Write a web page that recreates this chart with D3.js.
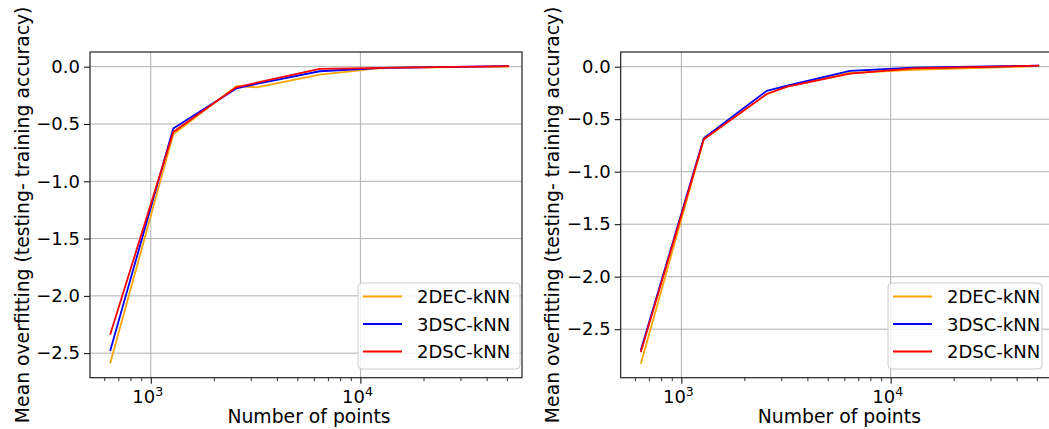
<!DOCTYPE html>
<html>
<head>
<meta charset="utf-8">
<script src="https://cdn.jsdelivr.net/npm/d3@7"></script>
<style>
  html, body { margin: 0; padding: 0; background: #fff; }
  svg { display: block; font-family: "DejaVu Sans", sans-serif; }
</style>
</head>
<body>
<svg id="chart" width="1049" height="429"></svg>
<script>
// ---- data ----
const numPoints = [640, 1280, 2560, 3200, 6400, 12800, 51200];
const seriesNames = ["2DEC-kNN", "3DSC-kNN", "2DSC-kNN"];

const left2DEC = [-2.59, -0.59, -0.17, -0.18, -0.07, -0.01, 0.0];
const left3DSC = [-2.48, -0.54, -0.19, -0.15, -0.04, -0.01, 0.005];
const left2DSC = [-2.34, -0.57, -0.18, -0.14, -0.02, -0.01, 0.005];

const right2DEC = [-2.83, -0.69, -0.26, -0.19, -0.06, -0.03, 0.005];
const right3DSC = [-2.70, -0.68, -0.23, -0.18, -0.04, -0.01, 0.01];
const right2DSC = [-2.72, -0.69, -0.26, -0.19, -0.065, -0.015, 0.01];

const yTicks = [0, -0.5, -1.0, -1.5, -2.0, -2.5];
const xMajorTicks = [1000, 10000];
const xMinorTicks = [600, 700, 800, 900, 2000, 3000, 4000, 5000, 6000, 7000, 8000, 9000, 20000, 30000, 40000, 50000];
const xLabel = "Number of points";
const yLabel = "Mean overfitting (testing- training accuracy)";

// ---- style ----
const colors = ["#ffa500", "#0000ff", "#ff0000"];
const FONT = 18;
const LABEL_FONT = 18.8;

const svg = d3.select("#chart");

function drawPanel(cfg, seriesValues) {
  const x = d3.scaleLog().domain(cfg.xDomain).range([cfg.left, cfg.right]);
  const y = d3.scaleLinear().domain(cfg.yDomain).range([cfg.bottom, cfg.top]);
  const g = svg.append("g");

  const clipId = "clip" + cfg.id;
  svg.append("clipPath").attr("id", clipId)
    .append("rect").attr("x", cfg.left).attr("y", cfg.top)
    .attr("width", cfg.right - cfg.left).attr("height", cfg.bottom - cfg.top);

  // grid
  g.selectAll(".vgrid").data(xMajorTicks).enter().append("line")
    .attr("x1", d => x(d)).attr("x2", d => x(d))
    .attr("y1", cfg.top).attr("y2", cfg.bottom)
    .attr("stroke", "#b0b0b0").attr("stroke-width", 1);
  g.selectAll(".hgrid").data(yTicks).enter().append("line")
    .attr("x1", cfg.left).attr("x2", cfg.right)
    .attr("y1", d => y(d)).attr("y2", d => y(d))
    .attr("stroke", "#b0b0b0").attr("stroke-width", 1);

  // lines
  const line = d3.line().x((d, i) => x(numPoints[i])).y(d => y(d));
  const lg = g.append("g").attr("clip-path", `url(#${clipId})`);
  seriesValues.forEach((vals, k) => {
    lg.append("path").datum(vals).attr("d", line)
      .attr("fill", "none").attr("stroke", colors[k])
      .attr("stroke-width", 1.8).attr("stroke-linejoin", "round");
  });

  // y axis
  const yAxis = d3.axisLeft(y).tickValues(yTicks).tickSize(6).tickPadding(4)
    .tickFormat(d => d3.format(".1f")(d).replace("-", "\u2212"));
  const ya = g.append("g").attr("transform", `translate(${cfg.left},0)`).call(yAxis);
  ya.select(".domain").remove();
  ya.selectAll("text").attr("font-size", FONT).attr("font-family", "DejaVu Sans").attr("fill", "#000");
  ya.selectAll("line").attr("stroke", "#000");

  // x axis
  const xa = g.append("g").attr("transform", `translate(0,${cfg.bottom})`)
    .call(d3.axisBottom(x).tickValues(xMajorTicks).tickSize(6).tickFormat(""));
  xa.select(".domain").remove();
  xa.selectAll("line").attr("stroke", "#000");
  const xm = g.append("g").attr("transform", `translate(0,${cfg.bottom})`)
    .call(d3.axisBottom(x).tickValues(xMinorTicks).tickSize(3.5).tickFormat(""));
  xm.select(".domain").remove();
  xm.selectAll("line").attr("stroke", "#000").attr("stroke-width", 0.8);

  xMajorTicks.forEach(t => {
    const txt = g.append("text").attr("x", x(t) - 3).attr("y", cfg.bottom + 25)
      .attr("text-anchor", "middle").attr("font-size", FONT).attr("fill", "#000");
    txt.append("tspan").text("10");
    txt.append("tspan").attr("font-size", 12.5).attr("dy", -7).text(String(Math.round(Math.log10(t))));
  });

  // spines
  g.append("rect").attr("x", cfg.left).attr("y", cfg.top)
    .attr("width", cfg.right - cfg.left).attr("height", cfg.bottom - cfg.top)
    .attr("fill", "none").attr("stroke", "#222").attr("stroke-width", 1.2);

  // axis labels
  g.append("text").attr("x", (cfg.left + cfg.right) / 2 + 3).attr("y", 423)
    .attr("text-anchor", "middle").attr("font-size", LABEL_FONT).attr("fill", "#000").text(xLabel);
  g.append("text").attr("transform", `translate(${cfg.yLabelX},${(cfg.top + cfg.bottom) / 2}) rotate(-90)`)
    .attr("text-anchor", "middle").attr("font-size", LABEL_FONT).attr("fill", "#000").text(yLabel);

  // legend
  const leg = g.append("g");
  leg.append("rect").attr("x", cfg.legX).attr("y", cfg.legY)
    .attr("width", cfg.legW).attr("height", cfg.legH).attr("rx", 4)
    .attr("fill", "#fff").attr("fill-opacity", 0.8)
    .attr("stroke", "#cccccc").attr("stroke-width", 1);
  seriesNames.forEach((name, k) => {
    const ly = cfg.legY + 13.5 + k * 27.5;
    leg.append("line").attr("x1", cfg.legX + 5).attr("x2", cfg.legX + 44)
      .attr("y1", ly).attr("y2", ly).attr("stroke", colors[k]).attr("stroke-width", 1.8);
    leg.append("text").attr("x", cfg.legX + 59).attr("y", ly + 6.5)
      .attr("font-size", FONT).attr("fill", "#000").text(name);
  });
}

drawPanel({
  id: "L", left: 90, right: 522, top: 52, bottom: 377.7,
  xDomain: [513, 59000], yDomain: [-2.714, 0.128],
  yLabelX: 28.5, legX: 358, legY: 283, legW: 162, legH: 86
}, [left2DEC, left3DSC, left2DSC]);

drawPanel({
  id: "R", left: 620.7, right: 1052, top: 52, bottom: 377.7,
  xDomain: [513, 59000], yDomain: [-2.962, 0.140],
  yLabelX: 558.5, legX: 888, legY: 283, legW: 154, legH: 86
}, [right2DEC, right3DSC, right2DSC]);
</script>
</body>
</html>
